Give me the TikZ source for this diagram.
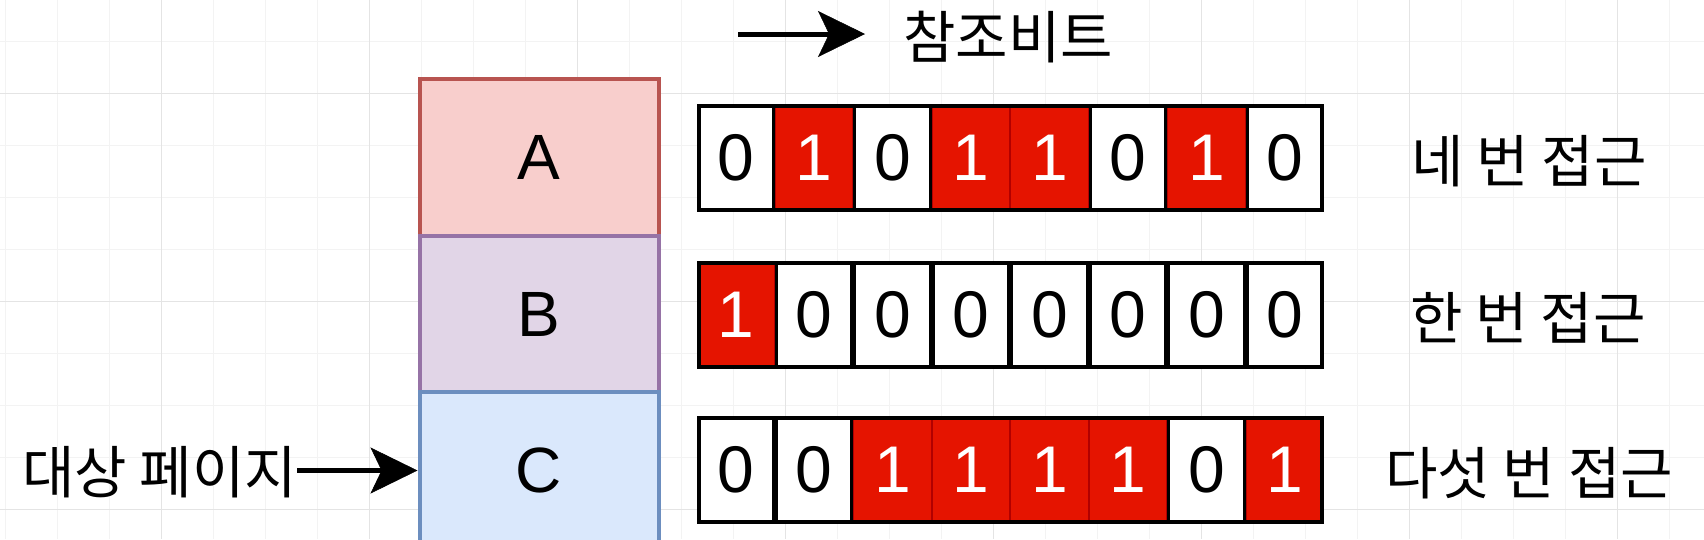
\documentclass[tikz,border=0pt]{standalone}
\usepackage{fontspec}
\setmainfont{Liberation Sans}
\newfontfamily\kr{Noto Sans CJK KR}
\usetikzlibrary{arrows.meta}
\definecolor{cellred}{HTML}{E51400}
\definecolor{cellredline}{HTML}{B20000}
\definecolor{afill}{HTML}{F8CECC}\definecolor{aline}{HTML}{B85450}
\definecolor{bfill}{HTML}{E1D5E7}\definecolor{bline}{HTML}{9673A6}
\definecolor{cfill}{HTML}{DAE8FC}\definecolor{cline}{HTML}{6C8EBF}
\definecolor{gridminor}{HTML}{F3F3F3}
\definecolor{gridmajor}{HTML}{E4E4E4}
\begin{document}
\begin{tikzpicture}[x=1pt,y=-1pt,
  kor/.style={font=\kr\fontsize{57}{66}\selectfont, inner sep=0pt},
  page/.style={draw, line width=4pt, minimum width=239pt, minimum height=156.5pt, inner sep=0pt, font=\fontsize{64}{76}\selectfont},
  cellzero/.style={draw=black, fill=white, line width=3pt, minimum width=75.44pt, minimum height=105pt, inner sep=0pt, font=\fontsize{66}{80}\selectfont, text=black},
  cellone/.style={draw=cellredline, fill=cellred, line width=1pt, minimum width=77.44pt, minimum height=106pt, inner sep=0pt, font=\fontsize{66}{80}\selectfont, text=white},
  rowframe/.style={draw=black, line width=4pt, minimum width=623.5pt, minimum height=104pt, inner sep=0pt},
  arr/.style={line width=5pt, -{Stealth[length=47pt,width=46pt,inset=11pt,line width=0.5pt]}}
]
\useasboundingbox (0,0) rectangle (1704,539);
\fill[white] (0,0) rectangle (1704,539);
% grid
\begin{scope}
\clip (0,0) rectangle (1704,539);
\foreach \x in {5,57,...,1704} \draw[gridminor, line width=1pt] (\x,0) -- (\x,539);
\foreach \y in {-11,41,...,539} \draw[gridminor, line width=1pt] (0,\y) -- (1704,\y);
\foreach \x in {161,369,...,1704} \draw[gridmajor, line width=1pt] (\x,0) -- (\x,539);
\foreach \y in {93,301,509} \draw[gridmajor, line width=1pt] (0,\y) -- (1704,\y);
\end{scope}
% pages
\node[page, draw=aline, fill=afill] (A) at (539,157.5) {A};
\node[page, draw=bline, fill=bfill] (B) at (539,314) {B};
\node[page, draw=cline, fill=cfill] (C) at (539,470.5) {C};
% bit rows
\foreach \b [count=\i from 0] in {0,1,0,1,1,0,1,0}
  {\ifnum\b=0 \node[cellzero] (ra\i) at ({735.72+78.44*\i},158) {0};
   \else \node[cellone] (ra\i) at ({735.72+78.44*\i},158) {1}; \fi}
\node[rowframe] (fa) at (1010.25,158) {};
\foreach \b [count=\i from 0] in {1,0,0,0,0,0,0,0}
  {\ifnum\b=0 \node[cellzero] (rb\i) at ({735.72+78.44*\i},314.5) {0};
   \else \node[cellone] (rb\i) at ({735.72+78.44*\i},314.5) {1}; \fi}
\node[rowframe] (fb) at (1010.25,314.5) {};
\foreach \b [count=\i from 0] in {0,0,1,1,1,1,0,1}
  {\ifnum\b=0 \node[cellzero] (rc\i) at ({735.72+78.44*\i},470) {0};
   \else \node[cellone] (rc\i) at ({735.72+78.44*\i},470) {1}; \fi}
\node[rowframe] (fc) at (1010.25,470) {};
% labels
\node[kor] (la) at (1529,161) {네 번 접근};
\node[kor] (lb) at (1528,318) {한 번 접근};
\node[kor] (lc) at (1529,473) {다섯 번 접근};
\node[kor] (ref) at (1008,37) {참조비트};
\node[kor] (tgt) at (159.5,472) {대상 페이지};
% arrows
\coordinate (ls) at (738,34);
\coordinate (le) at (865,34);
\draw[arr] (ls) -- (le);
\draw[arr] (tgt.east |- C.west) -- (C.west);
\end{tikzpicture}
\end{document}
